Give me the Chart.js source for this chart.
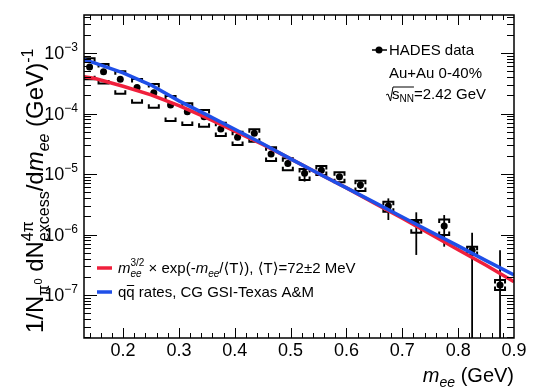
<!DOCTYPE html>
<html>
<head>
<meta charset="utf-8">
<script src="https://cdn.jsdelivr.net/npm/chart.js@4.4.0/dist/chart.umd.min.js"></script>
<style>
  body { margin: 0; background: #fff; }
  canvas { display: block; }
</style>
</head>
<body>
<canvas id="chart" width="538" height="392"></canvas>
<script>
// HADES excess yield, Au+Au 0-40% (m_ee in GeV)
const massBins  = [0.14, 0.165, 0.195, 0.225, 0.255, 0.285, 0.315, 0.345, 0.375, 0.405, 0.435,
                   0.465, 0.495, 0.525, 0.555, 0.5875, 0.625, 0.675, 0.725, 0.775, 0.825, 0.875];
const yields    = [5.9e-4, 4.9e-4, 3.67e-4, 2.7e-4, 2.2e-4, 1.38e-4, 1.07e-4, 8.85e-5, 5.55e-5, 4.05e-5, 4.7e-5,
                   2.14e-5, 1.5e-5, 1.03e-5, 1.16e-5, 9.0e-6, 6.6e-6, 2.96e-6, 1.53e-6, 1.38e-6, 5.5e-7, 1.46e-7];
const statLow   = [5.5e-4, 4.6e-4, 3.45e-4, 2.55e-4, 2.07e-4, 1.3e-4, 1.0e-4, 8.3e-5, 5.15e-5, 3.75e-5, 4.35e-5,
                   1.95e-5, 1.33e-5, 7.5e-6, 1.02e-5, 7.9e-6, 5.7e-6, 1.74e-6, 4.6e-7, 6.3e-7, 1e-9, 1e-9];
const statHigh  = [6.3e-4, 5.2e-4, 3.9e-4, 2.86e-4, 2.34e-4, 1.47e-4, 1.14e-4, 9.4e-5, 5.95e-5, 4.35e-5, 5.05e-5,
                   2.35e-5, 1.68e-5, 1.2e-5, 1.3e-5, 1.01e-5, 7.5e-6, 3.96e-6, 2.33e-6, 2.1e-6, 1.07e-6, 5.5e-7];
const sysLow    = [3.7e-4, 3.15e-4, 2.12e-4, 1.51e-4, 1.25e-4, 7.5e-5, 6.45e-5, 6.05e-5, 4.25e-5, 3.02e-5, 3.42e-5,
                   1.64e-5, 1.16e-5, 7.96e-6, 9.6e-6, 7.3e-6, 5.24e-6, 2.38e-6, 1.07e-6, 9.8e-7, 4.6e-7, 1.21e-7];
const sysHigh   = [8.2e-4, 6.6e-4, 5.0e-4, 3.72e-4, 3.08e-4, 1.95e-4, 1.48e-4, 1.14e-4, 7.05e-5, 5.0e-5, 5.48e-5,
                   2.76e-5, 1.82e-5, 1.21e-5, 1.36e-5, 1.07e-5, 7.75e-6, 3.48e-6, 1.74e-6, 1.78e-6, 6.3e-7, 1.77e-7];

// model curves
const curveMass  = [0.13, 0.15, 0.2, 0.25, 0.3, 0.35, 0.4, 0.45, 0.5, 0.55, 0.6, 0.65, 0.7, 0.75, 0.8, 0.85, 0.9];
const thermalFit = [4.07e-4, 3.8e-4, 2.82e-4, 2.04e-4, 1.35e-4, 8.5e-5, 5.13e-5, 3.09e-5, 1.78e-5, 1.02e-5,
                    5.9e-6, 3.3e-6, 1.86e-6, 1.02e-6, 5.6e-7, 3.1e-7, 1.66e-7];
const qqRates    = [7.8e-4, 6.8e-4, 4.7e-4, 2.95e-4, 1.62e-4, 9.5e-5, 5.5e-5, 3.16e-5, 1.78e-5, 1.02e-5,
                    5.9e-6, 3.4e-6, 1.95e-6, 1.12e-6, 6.5e-7, 3.7e-7, 2.14e-7];

const xTickLabels = ['0.2', '0.3', '0.4', '0.5', '0.6', '0.7', '0.8', '0.9'];
const yDecades = [-7, -6, -5, -4, -3];

const FONT = '"Liberation Sans", Arial, "DejaVu Sans", sans-serif';

function fontOf(p) {
    return (p.it ? 'italic ' : '') + p.s + 'px ' + FONT;
}

function partWidth(ctx, p) {
    if (p.stack) return Math.max(...p.stack.map(q => partWidth(ctx, q)));
    ctx.font = fontOf(p);
    return ctx.measureText(p.t).width;
}

// draws a run of text pieces with sub/superscripts, left aligned at (x, y)
function drawRich(ctx, x, y, parts) {
    ctx.textAlign = 'left';
    ctx.textBaseline = 'alphabetic';
    parts.forEach(p => {
        if (p.stack) {
            p.stack.forEach(q => { ctx.font = fontOf(q); ctx.fillText(q.t, x, y + (q.dy || 0)); });
        } else {
            ctx.font = fontOf(p);
            ctx.fillText(p.t, x, y + (p.dy || 0));
        }
        x += partWidth(ctx, p);
    });
    return x;
}

function richWidth(ctx, parts) {
    return parts.reduce((w, p) => w + partWidth(ctx, p), 0);
}

const rootStyle = {
    id: 'rootStyle',
    beforeDatasetsDraw(chart) {
        const { ctx, chartArea: a, scales: { x, y } } = chart;
        ctx.save();
        ctx.beginPath();
        ctx.rect(a.left, a.top, a.right - a.left, a.bottom - a.top);
        ctx.clip();
        ctx.strokeStyle = '#000';
        massBins.forEach((m, i) => {
            const px = x.getPixelForValue(m);
            // statistical error
            ctx.lineWidth = 1.8;
            ctx.beginPath();
            ctx.moveTo(px, y.getPixelForValue(statHigh[i]));
            ctx.lineTo(px, y.getPixelForValue(statLow[i]));
            ctx.stroke();
            // systematic brackets
            const top = y.getPixelForValue(sysHigh[i]);
            const bot = y.getPixelForValue(sysLow[i]);
            ctx.lineWidth = 2;
            ctx.beginPath();
            ctx.moveTo(px - 5, top + 3.5); ctx.lineTo(px - 5, top); ctx.lineTo(px + 5, top); ctx.lineTo(px + 5, top + 3.5);
            ctx.moveTo(px - 5, bot - 3.5); ctx.lineTo(px - 5, bot); ctx.lineTo(px + 5, bot); ctx.lineTo(px + 5, bot - 3.5);
            ctx.stroke();
        });
        ctx.restore();
    },
    afterDraw(chart) {
        const { ctx, chartArea: a, scales: { x, y } } = chart;
        ctx.save();
        ctx.strokeStyle = '#000';
        ctx.fillStyle = '#000';

        // frame
        ctx.lineWidth = 1.5;
        ctx.strokeRect(a.left, a.top, a.right - a.left, a.bottom - a.top);

        // x ticks (inside, bottom and top)
        ctx.lineWidth = 1;
        ctx.beginPath();
        for (let k = 7; k <= 45; k++) {
            const v = k * 0.02;
            const px = Math.round(x.getPixelForValue(v)) + 0.5;
            if (px < a.left || px > a.right) continue;
            const len = (k % 5 === 0) ? 10 : 5;
            ctx.moveTo(px, a.bottom); ctx.lineTo(px, a.bottom - len);
            ctx.moveTo(px, a.top); ctx.lineTo(px, a.top + len);
        }
        // y ticks (inside, left and right)
        for (let e = -8; e <= -3; e++) {
            for (let m = 1; m <= 9; m++) {
                const v = m * Math.pow(10, e);
                if (v < y.min || v > y.max) continue;
                const py = Math.round(y.getPixelForValue(v)) + 0.5;
                const len = m === 1 ? 13 : 7;
                ctx.moveTo(a.left, py); ctx.lineTo(a.left + len, py);
                ctx.moveTo(a.right, py); ctx.lineTo(a.right - len, py);
            }
        }
        ctx.stroke();

        // x tick labels
        ctx.font = '18px ' + FONT;
        ctx.textAlign = 'center';
        ctx.textBaseline = 'top';
        xTickLabels.forEach(t => ctx.fillText(t, x.getPixelForValue(parseFloat(t)), a.bottom + 4));

        // y tick labels 10^n
        yDecades.forEach(d => {
            const py = y.getPixelForValue(Math.pow(10, d));
            const parts = [{ t: '10', s: 18, dy: 6 }, { t: '\u2212' + (-d), s: 12, dy: -2 }];
            const w = richWidth(ctx, parts);
            drawRich(ctx, a.left - 6 - w, py, parts);
        });

        // x axis title
        const xTitle = [{ t: 'm', s: 20, it: true }, { t: 'ee', s: 14, dy: 5, it: true }, { t: ' (GeV)', s: 20 }];
        drawRich(ctx, a.right - richWidth(ctx, xTitle), 382, xTitle);

        // y axis title (rotated)
        const yTitle = [
            { t: '1/N', s: 24 },
            { t: '\u03c0', s: 16, dy: 6 },
            { t: '0', s: 11, dy: -1 },
            { t: ' dN', s: 24 },
            { stack: [{ t: '4\u03c0', s: 16, dy: -10 }, { t: 'excess', s: 16, dy: 6 }] },
            { t: '/d', s: 24 },
            { t: 'm', s: 24, it: true },
            { t: 'ee', s: 16, dy: 6, it: true },
            { t: ' (GeV)', s: 24 },
            { t: '-1', s: 16, dy: -10 }
        ];
        ctx.save();
        ctx.translate(43, 333);
        ctx.rotate(-Math.PI / 2);
        drawRich(ctx, 0, 0, yTitle);
        ctx.restore();

        // upper legend
        ctx.lineWidth = 1.5;
        ctx.beginPath();
        ctx.moveTo(372, 50); ctx.lineTo(387, 50);
        ctx.stroke();
        ctx.beginPath();
        ctx.arc(379, 50, 3.5, 0, Math.PI * 2);
        ctx.fill();
        drawRich(ctx, 389, 55, [{ t: 'HADES data', s: 15 }]);
        drawRich(ctx, 389, 78, [{ t: 'Au+Au 0-40%', s: 15 }]);
        const sEnd = drawRich(ctx, 392, 99, [{ t: 's', s: 15 }, { t: 'NN', s: 10, dy: 3 }]);
        drawRich(ctx, sEnd, 99, [{ t: '=2.42 GeV', s: 15 }]);
        ctx.lineWidth = 1;
        ctx.beginPath();
        ctx.moveTo(386, 95); ctx.lineTo(388, 94); ctx.lineTo(390.5, 101); ctx.lineTo(393, 87); ctx.lineTo(sEnd, 87);
        ctx.stroke();

        // lower legend
        ctx.lineWidth = 3.5;
        ctx.strokeStyle = '#f0203c';
        ctx.beginPath(); ctx.moveTo(97, 268); ctx.lineTo(112, 268); ctx.stroke();
        ctx.strokeStyle = '#1f4fe8';
        ctx.beginPath(); ctx.moveTo(97, 292); ctx.lineTo(112, 292); ctx.stroke();
        drawRich(ctx, 118, 273, [
            { t: 'm', s: 15, it: true },
            { stack: [{ t: '3/2', s: 10, dy: -7 }, { t: 'ee', s: 10, dy: 4, it: true }] },
            { t: ' \u00d7 exp(-', s: 15 },
            { t: 'm', s: 15, it: true },
            { t: 'ee', s: 10, dy: 4, it: true },
            { t: '/\u27e8T\u27e9), \u27e8T\u27e9=72\u00b12 MeV', s: 15 }
        ]);
        const qEnd = drawRich(ctx, 118, 297, [{ t: 'qq', s: 15 }]);
        ctx.font = '15px ' + FONT;
        const qW = ctx.measureText('q').width;
        ctx.strokeStyle = '#000';
        ctx.lineWidth = 1;
        ctx.beginPath(); ctx.moveTo(qEnd - qW + 0.5, 285.5); ctx.lineTo(qEnd - 0.5, 285.5); ctx.stroke();
        drawRich(ctx, qEnd, 297, [{ t: ' rates, CG GSI-Texas A&M', s: 15 }]);

        ctx.restore();
    }
};

const toPoints = (xs, ys) => xs.map((v, i) => ({ x: v, y: ys[i] }));

new Chart(document.getElementById('chart'), {
    type: 'scatter',
    data: {
        datasets: [
            {
                label: 'qq rates',
                data: toPoints(curveMass, qqRates),
                showLine: true,
                borderColor: '#1f4fe8',
                borderWidth: 3.5,
                pointRadius: 0,
                order: 0
            },
            {
                label: 'thermal fit',
                data: toPoints(curveMass, thermalFit),
                showLine: true,
                borderColor: '#f0203c',
                borderWidth: 3.5,
                pointRadius: 0,
                order: 1
            },
            {
                label: 'HADES data',
                data: toPoints(massBins, yields),
                showLine: false,
                pointRadius: 3.5,
                pointBackgroundColor: '#000',
                pointBorderColor: '#000',
                pointBorderWidth: 0,
                order: 2
            }
        ]
    },
    options: {
        responsive: false,
        animation: false,
        layout: { padding: { left: 84, top: 15, right: 24, bottom: 54 } },
        plugins: { legend: { display: false }, tooltip: { enabled: false } },
        scales: {
            x: { type: 'linear', min: 0.13, max: 0.9, display: false },
            y: { type: 'logarithmic', min: 1.95e-8, max: 4.25e-3, display: false }
        }
    },
    plugins: [rootStyle]
});
</script>
</body>
</html>
